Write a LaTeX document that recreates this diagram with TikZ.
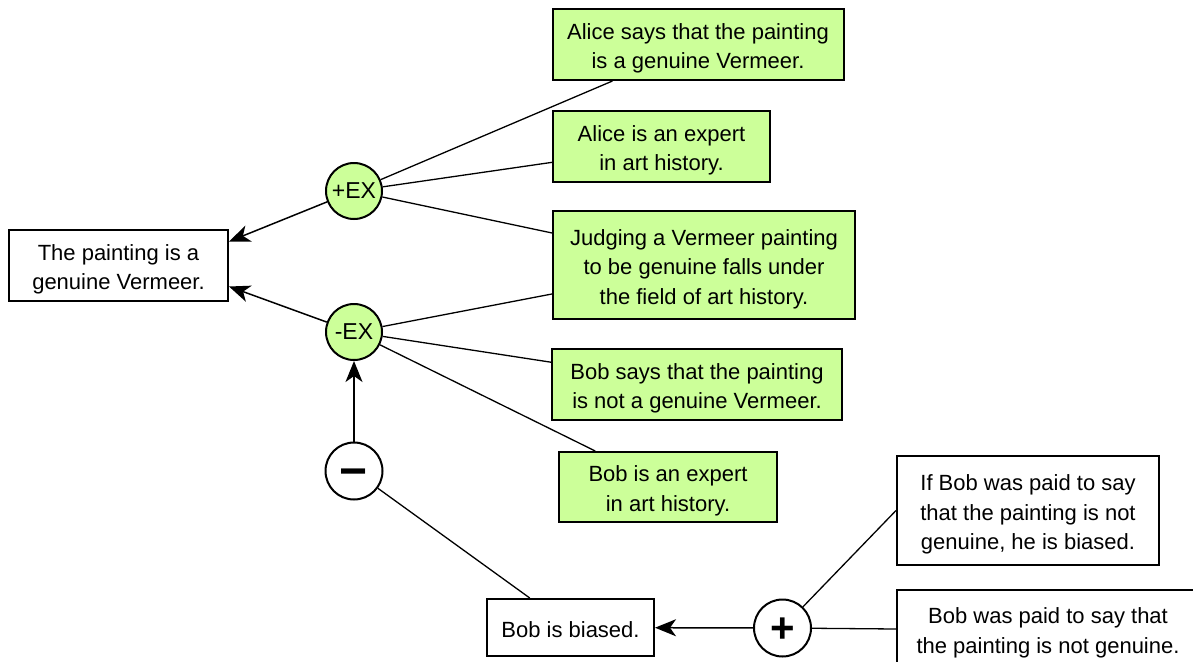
\documentclass[tikz,border=0pt]{standalone}
\usepackage{fontspec}
\setmainfont{Liberation Sans}
\usetikzlibrary{arrows.meta}
\definecolor{lgreen}{HTML}{CCFF99}
\newcommand{\tstr}{\rule{0pt}{24pt}}
\begin{document}
\begin{tikzpicture}[x=1pt,y=-1pt,
  txt/.style={font=\fontsize{22}{29.5}\selectfont, align=center},
  wbox/.style={txt, draw=black, line width=2pt, fill=white, inner sep=0pt},
  gbox/.style={wbox, fill=lgreen},
  gcirc/.style={circle, draw=black, line width=2pt, fill=lgreen, inner sep=0pt, minimum size=56pt, font=\fontsize{23}{23}\selectfont},
  wcirc/.style={circle, draw=black, line width=2pt, fill=white, inner sep=0pt, minimum size=57pt},
  conn/.style={line width=1.3pt},
  arr/.style={line width=1.5pt, -{Stealth[length=21pt,width=17pt,inset=6pt]}}
]
\useasboundingbox (0,0) rectangle (1193,661);

% nodes
\node[wbox, minimum width=219pt, minimum height=71pt] (main) at (118.5,265.5) {\tstr The painting is a\\genuine Vermeer.};
\node[gcirc] (pex) at (354,191) {+EX};
\node[gcirc] (mex) at (354,332) {-EX};
\node[wcirc, font=\fontsize{48}{48}\selectfont\bfseries] (minus) at (354,471) {\raisebox{0pt}[0.70em][0pt]{−}};
\node[wcirc, font=\fontsize{42}{42}\selectfont\bfseries] (plus) at (782.5,628) {\raisebox{0pt}[0.70em][0pt]{+}};
\node[wbox, minimum width=167pt, minimum height=57pt] (biased) at (570.5,627.5) {\rule{0pt}{21pt}Bob is biased.};

\node[gbox, minimum width=291pt, minimum height=71pt] (asays) at (698,44.5) {\tstr Alice says that the painting\\is a genuine Vermeer.};
\node[gbox, minimum width=217pt, minimum height=71pt] (aexp) at (661.5,146.5) {\tstr Alice is an expert\\in art history.};
\node[gbox, minimum width=302pt, minimum height=108pt] (judge) at (704,265) {\tstr Judging a Vermeer painting\\to be genuine falls under\\the field of art history.};
\node[gbox, minimum width=290pt, minimum height=71pt] (bsays) at (697,384.5) {\tstr Bob says that the painting\\is not a genuine Vermeer.};
\node[gbox, minimum width=218pt, minimum height=70pt] (bexp) at (668,487) {\tstr Bob is an expert\\in art history.};

\node[wbox, minimum width=262pt, minimum height=109pt] (ifbob) at (1028,510.5) {\tstr If Bob was paid to say\\that the painting is not\\genuine, he is biased.};
\node[wbox, minimum width=302pt, minimum height=78pt] (paid) at (1048,629) {\tstr Bob was paid to say that\\the painting is not genuine.};

% connectors
\draw[arr] (pex) -- ([yshift=24pt]main.east);
\draw[arr] (mex) -- ([yshift=-21pt]main.east);
\draw[conn] (asays) -- (pex);
\draw[conn] (aexp) -- (pex);
\draw[conn] (judge) -- (pex);
\draw[conn] (judge) -- (mex);
\draw[conn] (bsays) -- (mex);
\draw[conn] (bexp) -- (mex);
\draw[arr] (minus) -- (mex);
\draw[conn] (biased) -- (minus);
\draw[arr] (plus) -- (biased);
\draw[conn] (ifbob.west) -- (plus);
\draw[conn] (paid.west) -- (plus);
\end{tikzpicture}
\end{document}
